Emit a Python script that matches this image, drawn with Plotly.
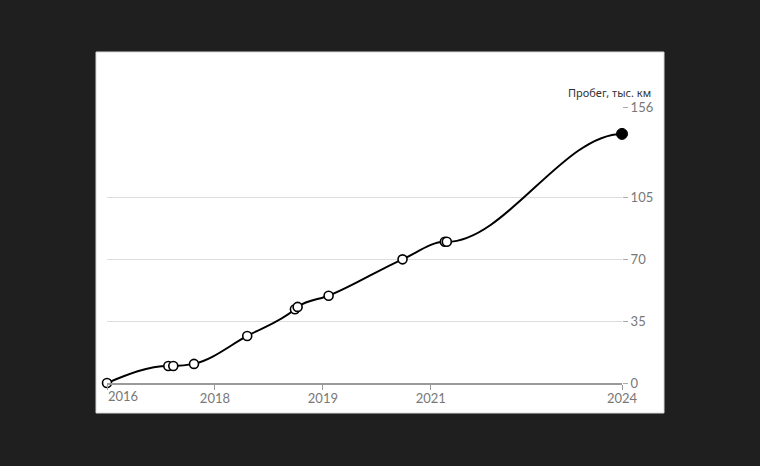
import plotly.graph_objects as go

# Position of each measurement on the (non-linear) time axis, in axis units
pos = [0.0, 0.568, 0.614, 0.806, 1.299, 1.741, 1.766, 2.053, 2.738, 3.13, 3.148, 4.771]
# Mileage, thousand km
mileage = [0.0, 9.6, 9.6, 10.8, 26.6, 41.7, 43.0, 49.3, 69.9, 79.8, 79.8, 140.8]

x_tick_vals = [0, 1, 2, 3, 4.771]
x_tick_text = ["2016", "2018", "2019", "2021", "2024"]
y_tick_vals = [0, 35, 70, 105, 156]
y_title = "Пробег, тыс. км"


def monotone_path(xs, ys):
    """Smooth monotone cubic path (d3 curveMonotoneX style) in data coordinates."""
    n = len(xs)
    h = [xs[i + 1] - xs[i] for i in range(n - 1)]
    s = [(ys[i + 1] - ys[i]) / h[i] for i in range(n - 1)]
    m = [0.0] * n
    for i in range(1, n - 1):
        if s[i - 1] * s[i] <= 0:
            m[i] = 0.0
        else:
            p = (s[i - 1] * h[i] + s[i] * h[i - 1]) / (h[i - 1] + h[i])
            m[i] = min(2 * abs(s[i - 1]), 2 * abs(s[i]), abs(p)) * (1 if s[i] > 0 else -1)
    m[0] = (3 * s[0] - m[1]) / 2
    m[-1] = 0.0  # curve levels off at the latest reading
    d = f"M {xs[0]},{ys[0]}"
    for i in range(n - 1):
        dx = h[i] / 3
        d += (f" C {xs[i] + dx},{ys[i] + m[i] * dx}"
              f" {xs[i + 1] - dx},{ys[i + 1] - m[i + 1] * dx}"
              f" {xs[i + 1]},{ys[i + 1]}")
    return d


fig = go.Figure()

fig.add_shape(type="path", xref="x", yref="y", path=monotone_path(pos, mileage),
              line=dict(color="#000000", width=2), layer="between")

fig.add_trace(go.Scatter(
    x=pos[:-1], y=mileage[:-1], mode="markers",
    marker=dict(size=9, color="#ffffff", line=dict(color="#000000", width=1.6)),
    cliponaxis=False, showlegend=False,
))
fig.add_trace(go.Scatter(
    x=pos[-1:], y=mileage[-1:], mode="markers",
    marker=dict(size=11, color="#000000", line=dict(color="#000000", width=1)),
    cliponaxis=False, showlegend=False,
))

W, H = 760, 466
L, R, T, B = 107, 138, 107, 83
pw, ph = W - L - R, H - T - B

def px(xp):
    return (xp - L) / pw

def py(yp):
    return (H - B - yp) / ph

fig.add_shape(type="rect", xref="paper", yref="paper",
              x0=px(96), x1=px(664), y0=py(413), y1=py(52),
              fillcolor="#ffffff", line=dict(color="#d8d8d8", width=1), layer="below")

fig.add_annotation(x=px(653), y=py(92), xref="paper", yref="paper",
                   text=y_title, showarrow=False, xanchor="right", yanchor="middle",
                   font=dict(family="Noto Sans, Open Sans, sans-serif", size=11, color="#333333"))

fig.add_annotation(x=0, y=py(396), xref="x", yref="paper",
                   text=x_tick_text[0], showarrow=False, xanchor="left", yanchor="middle",
                   xshift=-1,
                   font=dict(family="Lato, sans-serif", size=13, color="#777777"))

fig.update_layout(
    width=W, height=H,
    margin=dict(l=L, r=R, t=T, b=B),
    paper_bgcolor="#1f1f1f",
    plot_bgcolor="#ffffff",
    font=dict(family="Lato, sans-serif", size=13, color="#777777"),
    xaxis=dict(
        range=[0, 4.771], tickvals=x_tick_vals,
        ticktext=[""] + x_tick_text[1:],
        showgrid=False, zeroline=False,
        showline=True, linecolor="#9a9a9a", linewidth=1.5,
        ticks="outside", ticklen=5, tickcolor="#9a9a9a",
        ticklabelstandoff=-2,
        tickfont=dict(family="Lato, sans-serif", size=13, color="#777777"),
    ),
    yaxis=dict(
        range=[0, 156], side="right", tickvals=y_tick_vals,
        showgrid=True, gridcolor="#dddddd", gridwidth=1,
        zeroline=False, showline=False,
        ticks="outside", ticklen=5, tickcolor="#aaaaaa",
        tickfont=dict(family="Lato, sans-serif", size=13, color="#777777"),
    ),
)

fig.write_html("out.html")
